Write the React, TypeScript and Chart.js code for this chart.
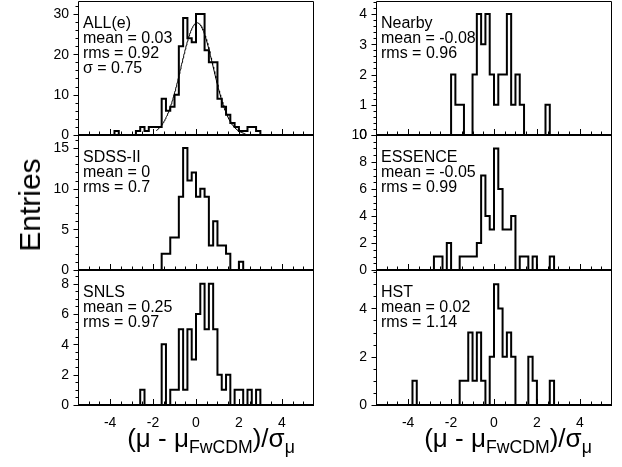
import React, { useEffect, useRef } from "react";
import { Chart, registerables } from "chart.js";

Chart.register(...registerables);

const FONT = '"Liberation Sans", Arial, Helvetica, sans-serif';

// ---- binning / x axis (units of (mu - mu_FwCDM)/sigma_mu) ----
const binWidth = 0.2;
const xMin = -5.5;
const xMax = 5.5;
const xTickLabels = [-4, -2, 0, 2, 4];
const xMinorStep = 0.5;

// ---- ALL(e) ----
const allFirstBin = -3.8;
const allCounts = [1, 0, 0, 0, 0, 1, 2, 1, 2, 2, 2, 9, 6, 7, 10, 22, 29, 24, 23, 30, 30, 21, 18, 18, 9, 7, 5, 3, 2, 1, 1, 2, 2, 1];
const allYMax = 33.2;
const allYTicks = [0, 10, 20, 30];
const allYMinor = 2;
const allText = ["ALL(e)", "mean = 0.03", "rms = 0.92", "σ = 0.75"];
const allFitAmplitude = 27.8;
const allFitMean = 0.05;
const allFitSigma = 0.75;
const allFitFrom = -1.85;
const allFitTo = 2.3;

// ---- SDSS-II ----
const sdssFirstBin = -1.6;
const sdssCounts = [2, 2, 4, 4, 9, 15, 11, 12, 9, 10, 9, 3, 6, 3, 3, 2, 0, 0, 1];
const sdssYMax = 16.6;
const sdssYTicks = [0, 5, 10, 15];
const sdssYMinor = 1;
const sdssText = ["SDSS-II", "mean = 0", "rms = 0.7"];

// ---- SNLS ----
const snlsFirstBin = -2.6;
const snlsCounts = [1, 0, 0, 0, 0, 4, 0, 1, 1, 5, 1, 5, 3, 6, 8, 5, 8, 5, 2, 1, 2, 0, 1, 1, 0, 1, 0, 1];
const snlsYMax = 8.9;
const snlsYTicks = [0, 2, 4, 6, 8];
const snlsYMinor = 0.5;
const snlsText = ["SNLS", "mean = 0.25", "rms = 0.97"];

// ---- Nearby ----
const nearbyFirstBin = -2.0;
const nearbyCounts = [2, 1, 1, 0, 0, 2, 4, 3, 4, 2, 1, 2, 2, 4, 1, 2, 1, 0, 0, 0, 0, 0, 1];
const nearbyYMax = 4.43;
const nearbyYTicks = [0, 1, 2, 3, 4];
const nearbyYMinor = 0.2;
const nearbyText = ["Nearby", "mean = -0.08", "rms = 0.96"];

// ---- ESSENCE ----
const essenceFirstBin = -2.8;
const essenceCounts = [1, 1, 0, 2, 0, 0, 1, 1, 1, 1, 2, 7, 4, 3, 9, 6, 3, 3, 4, 0, 1, 1, 0, 1, 0, 0, 0, 1];
const essenceYMax = 10;
const essenceYTicks = [0, 2, 4, 6, 8, 10];
const essenceYMinor = 0.5;
const essenceText = ["ESSENCE", "mean = -0.05", "rms = 0.99"];

// ---- HST ----
const hstFirstBin = -3.8;
const hstCounts = [1, 0, 0, 0, 0, 0, 0, 0, 0, 0, 0, 1, 1, 3, 1, 3, 1, 0, 2, 5, 4, 2, 3, 2, 0, 0, 0, 2, 1, 0, 0, 0, 1];
const hstYMax = 5.59;
const hstYTicks = [0, 2, 4];
const hstYMinor = 0.5;
const hstText = ["HST", "mean = 0.02", "rms = 1.14"];

// ---- layout ----
const COL_LEFT = [78, 376];
const CHART_W = 236;
const ROW_TOP = [1, 135, 270];
const ROW_BOTTOM = [135, 270, 405];
const PAD_L = 60;
const PAD_T = 12;
const PAD_R = 6;
const PAD_B = 12;
const PAD_B_LAST = 32;

type PanelDef = {
  id: string;
  col: number;
  row: number;
  firstBin: number;
  counts: number[];
  yMax: number;
  yTicks: number[];
  yMinor: number;
  text: string[];
  fit?: { amp: number; mean: number; sigma: number; from: number; to: number };
};

const panels: PanelDef[] = [
  { id: "all", col: 0, row: 0, firstBin: allFirstBin, counts: allCounts, yMax: allYMax, yTicks: allYTicks, yMinor: allYMinor, text: allText,
    fit: { amp: allFitAmplitude, mean: allFitMean, sigma: allFitSigma, from: allFitFrom, to: allFitTo } },
  { id: "sdss", col: 0, row: 1, firstBin: sdssFirstBin, counts: sdssCounts, yMax: sdssYMax, yTicks: sdssYTicks, yMinor: sdssYMinor, text: sdssText },
  { id: "snls", col: 0, row: 2, firstBin: snlsFirstBin, counts: snlsCounts, yMax: snlsYMax, yTicks: snlsYTicks, yMinor: snlsYMinor, text: snlsText },
  { id: "nearby", col: 1, row: 0, firstBin: nearbyFirstBin, counts: nearbyCounts, yMax: nearbyYMax, yTicks: nearbyYTicks, yMinor: nearbyYMinor, text: nearbyText },
  { id: "essence", col: 1, row: 1, firstBin: essenceFirstBin, counts: essenceCounts, yMax: essenceYMax, yTicks: essenceYTicks, yMinor: essenceYMinor, text: essenceText },
  { id: "hst", col: 1, row: 2, firstBin: hstFirstBin, counts: hstCounts, yMax: hstYMax, yTicks: hstYTicks, yMinor: hstYMinor, text: hstText },
];

function HistPanel({ p }: { p: PanelDef }) {
  const ref = useRef<HTMLCanvasElement>(null);
  const isBottom = p.row === 2;
  const chartH = ROW_BOTTOM[p.row] - ROW_TOP[p.row];
  const padB = isBottom ? PAD_B_LAST : PAD_B;
  const left = COL_LEFT[p.col] - PAD_L;
  const top = ROW_TOP[p.row] - PAD_T;
  const width = PAD_L + CHART_W + PAD_R;
  const height = PAD_T + chartH + padB;

  useEffect(() => {
    if (!ref.current) return;
    const pts: { x: number; y: number }[] = [{ x: p.firstBin, y: 0 }];
    p.counts.forEach((c, i) => pts.push({ x: p.firstBin + i * binWidth, y: c }));
    pts.push({ x: p.firstBin + p.counts.length * binWidth, y: 0 });

    const datasets: any[] = [
      { data: pts, stepped: "before", borderColor: "#000", borderWidth: 2, pointRadius: 0, fill: false, tension: 0 },
    ];
    if (p.fit) {
      const f = p.fit;
      const fp: { x: number; y: number }[] = [];
      for (let x = f.from; x <= f.to + 1e-9; x += 0.025) {
        fp.push({ x, y: f.amp * Math.exp(-0.5 * ((x - f.mean) / f.sigma) ** 2) });
      }
      datasets.push({ data: fp, borderColor: "#000", borderWidth: 1, pointRadius: 0, fill: false, tension: 0 });
    }

    const deco = {
      id: "deco_" + p.id,
      afterDraw(chart: any) {
        const { ctx, chartArea: a, scales } = chart;
        const xs = scales.x;
        const ys = scales.y;
        ctx.save();
        ctx.strokeStyle = "#000";
        ctx.fillStyle = "#000";
        const L = Math.round(a.left) + 0.5;
        const R = Math.round(a.right) - 0.5;
        const T = Math.round(a.top) + 0.5;
        const B = Math.round(a.bottom);
        // frame
        ctx.lineWidth = 1;
        ctx.beginPath();
        ctx.moveTo(L, B);
        ctx.lineTo(L, T);
        ctx.lineTo(R, T);
        ctx.lineTo(R, B);
        ctx.stroke();
        // bottom axis (thicker)
        ctx.lineWidth = 2;
        ctx.beginPath();
        ctx.moveTo(a.left, B);
        ctx.lineTo(a.right, B);
        ctx.stroke();
        // x ticks (inward)
        ctx.lineWidth = 1;
        ctx.beginPath();
        for (let v = -5; v <= 5 + 1e-9; v += xMinorStep) {
          const px = Math.round(xs.getPixelForValue(v)) + 0.5;
          const major = xTickLabels.some((t) => Math.abs(t - v) < 1e-6);
          ctx.moveTo(px, B);
          ctx.lineTo(px, B - (major ? 6 : 3.5));
        }
        ctx.stroke();
        // y ticks (outward)
        ctx.beginPath();
        for (let v = 0; v <= p.yMax + 1e-9; v += p.yMinor) {
          const py = Math.round(ys.getPixelForValue(v)) + 0.5;
          const major = p.yTicks.some((t) => Math.abs(t - v) < 1e-6);
          ctx.moveTo(L, py);
          ctx.lineTo(L - (major ? 5 : 3), py);
        }
        ctx.stroke();
        // y tick labels
        ctx.font = "14px " + FONT;
        ctx.textAlign = "right";
        ctx.textBaseline = "middle";
        p.yTicks.forEach((v) => {
          ctx.fillText(String(v), a.left - 9, ys.getPixelForValue(v) + 0.5);
        });
        // x tick labels
        if (isBottom) {
          ctx.textAlign = "center";
          xTickLabels.forEach((v) => {
            ctx.fillText(String(v), xs.getPixelForValue(v), a.bottom + 18);
          });
        }
        // annotation text
        ctx.font = "16px " + FONT;
        ctx.textAlign = "left";
        ctx.textBaseline = "alphabetic";
        p.text.forEach((s, i) => {
          ctx.fillText(s, a.left + 5, a.top + 26.5 + i * 15.3);
        });
        ctx.restore();
      },
    };

    const chart = new Chart(ref.current, {
      type: "line",
      data: { datasets },
      options: {
        animation: false,
        responsive: false,
        maintainAspectRatio: false,
        devicePixelRatio: 1,
        events: [],
        layout: { padding: { top: PAD_T, right: PAD_R, bottom: padB, left: PAD_L } },
        plugins: { legend: { display: false }, tooltip: { enabled: false }, title: { display: false } },
        scales: {
          x: { type: "linear", display: false, min: xMin, max: xMax },
          y: { type: "linear", display: false, min: 0, max: p.yMax },
        },
      },
      plugins: [deco],
    });
    return () => chart.destroy();
  }, []);

  return (
    <canvas
      ref={ref}
      width={width}
      height={height}
      style={{ position: "absolute", left, top, width, height }}
    />
  );
}

const subStyle: React.CSSProperties = { fontSize: "0.68em", position: "relative", top: "0.32em" };

function XTitle({ center }: { center: number }) {
  return (
    <div
      style={{
        position: "absolute",
        left: center,
        top: 424,
        transform: "translateX(-50%)",
        fontFamily: FONT,
        fontSize: 26,
        lineHeight: "28px",
        whiteSpace: "nowrap",
        color: "#000",
      }}
    >
      (μ - μ<span style={subStyle}>FwCDM</span>)/σ<span style={subStyle}>μ</span>
    </div>
  );
}

export default function App() {
  return (
    <div style={{ position: "absolute", left: 0, top: 0, width: 622, height: 467, background: "#fff", overflow: "hidden" }}>
      {panels.map((p) => (
        <HistPanel key={p.id} p={p} />
      ))}
      <div
        style={{
          position: "absolute",
          left: 30,
          top: 205,
          transform: "translate(-50%, -50%) rotate(-90deg)",
          fontFamily: FONT,
          fontSize: 30,
          whiteSpace: "nowrap",
          color: "#000",
        }}
      >
        Entries
      </div>
      <XTitle center={211} />
      <XTitle center={508} />
    </div>
  );
}
